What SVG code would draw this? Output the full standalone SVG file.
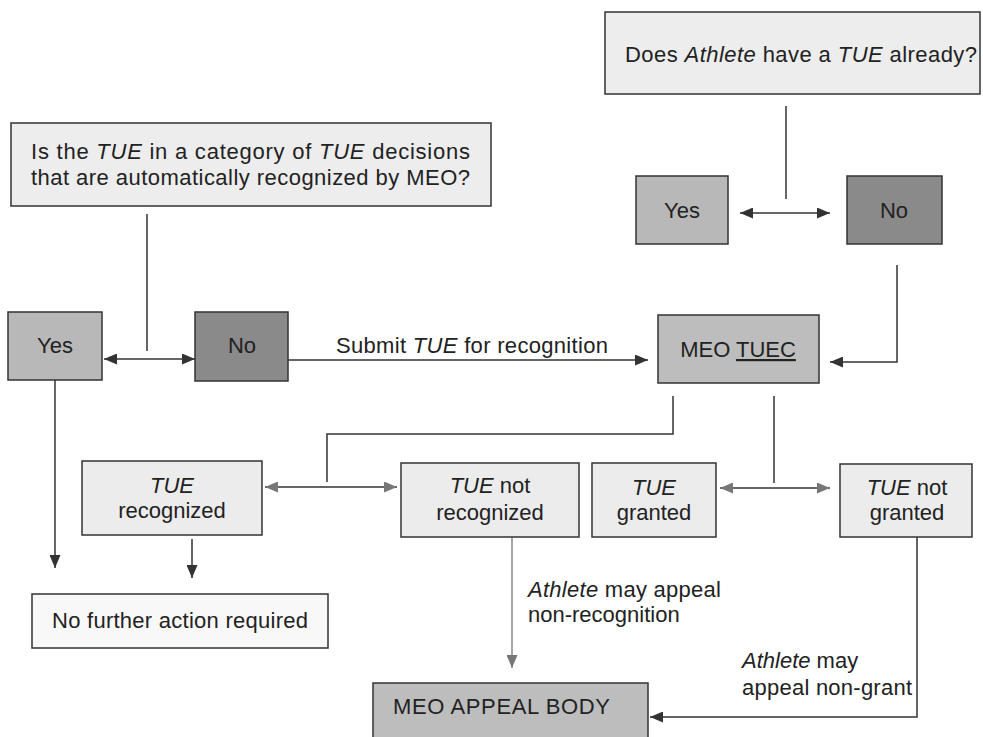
<svg xmlns="http://www.w3.org/2000/svg" width="983" height="737" viewBox="0 0 983 737">
<defs>
<marker id="ah" viewBox="0 0 13 11" refX="13" refY="5.5" markerWidth="13" markerHeight="11" markerUnits="userSpaceOnUse" orient="auto-start-reverse"><path d="M0,0 L13,5.5 L0,11 z" fill="#333"/></marker>
<marker id="ahg" viewBox="0 0 13 11" refX="13" refY="5.5" markerWidth="13" markerHeight="11" markerUnits="userSpaceOnUse" orient="auto-start-reverse"><path d="M0,0 L13,5.5 L0,11 z" fill="#777"/></marker>
</defs>
<style>
text{font-family:"Liberation Sans",Arial,sans-serif;font-size:22px;fill:#222}
.c{text-anchor:middle}
.i{font-style:italic}
.box{stroke:#333;stroke-width:1.5}
.q{fill:#ededed}
.lt{fill:#ececec}
.yes{fill:#b8b8b8}
.no{fill:#8a8a8a}
.mid{fill:#bdbdbd}
.wh{fill:#f8f8f8}
.ln{fill:none;stroke:#333;stroke-width:1.5}
.lg{fill:none;stroke:#888;stroke-width:1.5}
</style>
<rect width="983" height="737" fill="#fff"/>
<g id="connectors">
<path class="ln" d="M147,214 V351"/>
<path class="ln" d="M104,359 H195" marker-start="url(#ah)" marker-end="url(#ah)"/>
<path class="ln" d="M288,360 H648" marker-end="url(#ah)"/>
<path class="ln" d="M786,106 V199"/>
<path class="ln" d="M740,213 H830" marker-start="url(#ah)" marker-end="url(#ah)"/>
<path class="ln" d="M897,265 V362 H830" marker-end="url(#ah)"/>
<path class="ln" d="M55,380 V568" marker-end="url(#ah)"/>
<path class="ln" d="M673,396 V434 H327 V482"/>
<path class="ln" d="M265,487 H397" marker-start="url(#ahg)" marker-end="url(#ahg)"/>
<path class="ln" d="M774,396 V483"/>
<path class="ln" d="M720,488 H830" marker-start="url(#ahg)" marker-end="url(#ahg)"/>
<path class="ln" d="M192,539 V578" marker-end="url(#ah)"/>
<path class="lg" d="M512,537 V668" marker-end="url(#ahg)"/>
<path class="ln" d="M917,537 V717 H650" marker-end="url(#ah)"/>
<text x="336" y="353" textLength="272">Submit <tspan class="i">TUE</tspan> for recognition</text>
<text x="528" y="597" textLength="193"><tspan class="i">Athlete</tspan> may appeal</text>
<text x="528" y="622">non-recognition</text>
<text x="742" y="668"><tspan class="i">Athlete</tspan> may</text>
<text x="742" y="695" textLength="170">appeal non-grant</text>
</g>
<g id="q-has-tue">
<rect class="box q" x="605" y="12" width="375" height="82"/>
<text x="625" y="62" textLength="352">Does <tspan class="i">Athlete</tspan> have a <tspan class="i">TUE</tspan> already?</text>
</g>
<g id="yes-right">
<rect class="box yes" x="636" y="176" width="92" height="68"/>
<text class="c" x="682" y="218">Yes</text>
</g>
<g id="no-right">
<rect class="box no" x="847" y="176" width="95" height="68"/>
<text class="c" x="894" y="218">No</text>
</g>
<g id="q-category">
<rect class="box q" x="11" y="123" width="480" height="83"/>
<text x="31" y="159" textLength="439">Is the <tspan class="i">TUE</tspan> in a category of <tspan class="i">TUE</tspan> decisions</text>
<text x="31" y="185" textLength="439">that are automatically recognized by MEO?</text>
</g>
<g id="yes-left">
<rect class="box yes" x="8" y="312" width="94" height="68"/>
<text class="c" x="55" y="353">Yes</text>
</g>
<g id="no-left">
<rect class="box no" x="195" y="312" width="93" height="69"/>
<text class="c" x="242" y="353">No</text>
</g>
<g id="meo-tuec">
<rect class="box mid" x="658" y="315" width="161" height="68"/>
<text class="c" x="738" y="357">MEO <tspan text-decoration="underline">TUEC</tspan></text>
</g>
<g id="tue-recognized">
<rect class="box lt" x="82" y="461" width="180" height="74"/>
<text class="c i" x="172" y="493">TUE</text>
<text class="c" x="172" y="518">recognized</text>
</g>
<g id="tue-not-recognized">
<rect class="box lt" x="401" y="463" width="178" height="74"/>
<text class="c" x="490" y="493"><tspan class="i">TUE</tspan> not</text>
<text class="c" x="490" y="520">recognized</text>
</g>
<g id="tue-granted">
<rect class="box lt" x="592" y="463" width="124" height="74"/>
<text class="c i" x="654" y="495">TUE</text>
<text class="c" x="654" y="520">granted</text>
</g>
<g id="tue-not-granted">
<rect class="box lt" x="840" y="464" width="132" height="73"/>
<text class="c" x="907" y="495"><tspan class="i">TUE</tspan> not</text>
<text class="c" x="907" y="520">granted</text>
</g>
<g id="no-further-action">
<rect class="box wh" x="32" y="594" width="296" height="54"/>
<text x="52" y="628" textLength="256">No further action required</text>
</g>
<g id="meo-appeal-body">
<rect class="box mid" x="373" y="683" width="275" height="70"/>
<text x="393" y="714" font-size="23" textLength="217">MEO APPEAL BODY</text>
</g>
</svg>
